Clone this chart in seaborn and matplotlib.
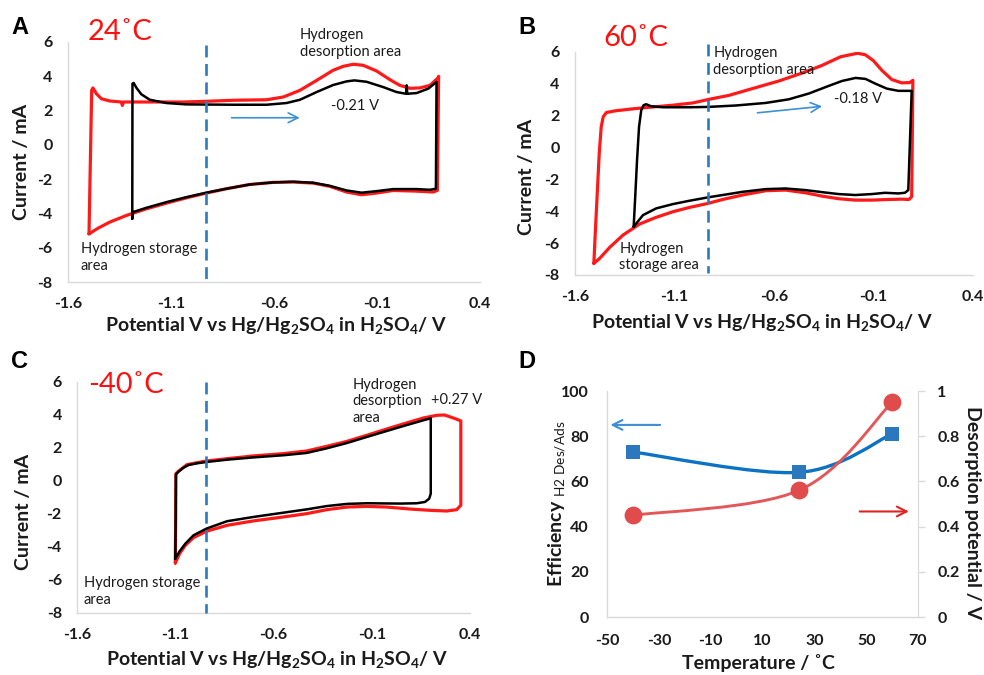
import matplotlib
matplotlib.use("Agg")
import numpy as np
import pandas as pd
import matplotlib.pyplot as plt
from matplotlib.path import Path
from matplotlib.patches import PathPatch
import seaborn as sns

# ---------------- cyclic voltammograms (potential V, current mA) ----------------
# 24 C
a_red_v = [-1.498, -1.485, -1.479, -1.462, -1.438, -1.398, -1.341, -1.336, -1.331, -1.203,
           -1.041, -0.928, -0.798, -0.636, -0.555, -0.474, -0.393, -0.313, -0.264, -0.215,
           -0.167, -0.102, -0.037, 0.011, 0.060, 0.108, 0.157, 0.198, 0.199, 0.193,
           0.173, 0.092, -0.021, -0.102, -0.175, -0.248, -0.329, -0.410, -0.507, -0.604,
           -0.717, -0.831, -0.928, -1.025, -1.122, -1.219, -1.317, -1.398, -1.454, -1.498]
a_red_i = [-5.19, 3.18, 3.32, 2.98, 2.69, 2.56, 2.50, 2.30, 2.50, 2.50,
           2.50, 2.54, 2.60, 2.63, 2.79, 3.18, 3.76, 4.35, 4.58, 4.70,
           4.64, 4.31, 3.80, 3.47, 3.30, 3.32, 3.47, 3.92, 4.00, -2.66,
           -2.75, -2.70, -2.66, -2.81, -2.91, -2.75, -2.42, -2.23, -2.17, -2.19,
           -2.31, -2.56, -2.81, -3.09, -3.40, -3.73, -4.12, -4.51, -4.86, -5.19]
a_blk_v = [-1.288, -1.287, -1.281, -1.268, -1.244, -1.203, -1.122, -1.025, -0.798, -0.636,
           -0.539, -0.474, -0.393, -0.313, -0.248, -0.210, -0.151, -0.070, -0.005, 0.041,
           0.044, 0.047, 0.092, 0.149, 0.189, 0.186, 0.157, 0.092, -0.021, -0.102,
           -0.175, -0.248, -0.329, -0.410, -0.507, -0.604, -0.717, -0.831, -0.928, -1.025,
           -1.122, -1.219, -1.284, -1.288]
a_blk_i = [-4.31, 3.57, 3.61, 3.33, 2.95, 2.63, 2.44, 2.36, 2.34, 2.34,
           2.44, 2.63, 3.08, 3.49, 3.70, 3.76, 3.68, 3.37, 3.08, 2.98,
           3.47, 2.98, 3.02, 3.28, 3.67, -2.56, -2.62, -2.58, -2.58, -2.70,
           -2.79, -2.66, -2.39, -2.21, -2.15, -2.19, -2.31, -2.56, -2.79, -3.05,
           -3.34, -3.67, -3.92, -4.31]

# 60 C
b_red_v = [-1.505, -1.498, -1.488, -1.478, -1.468, -1.458, -1.442, -1.400, -1.325, -1.242,
           -1.108, -1.008, -0.933, -0.825, -0.692, -0.575, -0.458, -0.358, -0.265, -0.180,
           -0.140, -0.100, -0.058, -0.008, 0.042, 0.083, 0.098, 0.092, 0.078, 0.042,
           -0.025, -0.108, -0.192, -0.275, -0.358, -0.442, -0.542, -0.642, -0.758, -0.858,
           -0.933, -1.025, -1.108, -1.192, -1.275, -1.358, -1.425, -1.475, -1.505]
b_red_i = [-7.27, -5.39, -2.88, -0.37, 1.30, 1.93, 2.20, 2.30, 2.41, 2.51,
           2.66, 2.80, 3.01, 3.28, 3.76, 4.18, 4.68, 5.16, 5.70, 5.92,
           5.82, 5.45, 4.85, 4.27, 4.06, 4.08, 4.22, -3.09, -3.26, -3.24,
           -3.26, -3.30, -3.30, -3.21, -3.05, -2.84, -2.67, -2.71, -2.98, -3.26,
           -3.51, -3.76, -4.03, -4.38, -4.80, -5.49, -6.26, -6.95, -7.27]
b_blk_v = [-1.305, -1.298, -1.288, -1.278, -1.267, -1.255, -1.242, -1.217, -1.158, -1.025,
           -0.933, -0.792, -0.642, -0.525, -0.425, -0.325, -0.258, -0.190, -0.140, -0.092,
           -0.033, 0.025, 0.092, 0.075, 0.058, 0.025, -0.042, -0.108, -0.192, -0.275,
           -0.358, -0.442, -0.542, -0.642, -0.758, -0.858, -0.933, -1.025, -1.108, -1.192,
           -1.258, -1.305]
b_blk_i = [-4.97, -3.30, -0.79, 1.30, 2.34, 2.66, 2.72, 2.59, 2.53, 2.53,
           2.55, 2.64, 2.80, 3.03, 3.39, 3.87, 4.18, 4.37, 4.31, 4.02,
           3.70, 3.56, 3.56, -2.67, -2.84, -2.88, -2.84, -2.92, -2.98, -2.92,
           -2.80, -2.67, -2.57, -2.61, -2.78, -2.98, -3.13, -3.34, -3.55, -3.82,
           -4.24, -4.97]

# -40 C
c_red_v = [-1.100, -1.098, -1.097, -1.088, -1.066, -1.041, -0.998, -0.942, -0.837, -0.702,
           -0.549, -0.431, -0.329, -0.227, -0.125, -0.024, 0.078, 0.163, 0.231, 0.270,
           0.324, 0.353, 0.353, 0.332, 0.281, 0.197, 0.095, -0.024, -0.125, -0.227,
           -0.329, -0.431, -0.549, -0.702, -0.837, -0.942, -1.007, -1.049, -1.078, -1.100]
c_red_i = [-4.97, -2.18, 0.44, 0.55, 0.75, 0.99, 1.09, 1.21, 1.35, 1.52,
           1.66, 1.82, 2.10, 2.40, 2.77, 3.15, 3.52, 3.82, 3.98, 4.00,
           3.78, 3.64, -1.47, -1.74, -1.82, -1.78, -1.70, -1.58, -1.54, -1.58,
           -1.74, -1.98, -2.18, -2.42, -2.69, -3.05, -3.43, -3.90, -4.40, -4.97]
c_blk_v = [-1.100, -1.098, -1.097, -1.083, -1.061, -1.032, -0.990, -0.942, -0.837, -0.702,
           -0.549, -0.431, -0.329, -0.227, -0.125, -0.024, 0.078, 0.163, 0.200, 0.200,
           0.192, 0.171, 0.129, 0.044, -0.125, -0.227, -0.329, -0.431, -0.549, -0.702,
           -0.837, -0.942, -1.007, -1.049, -1.078, -1.100]
c_blk_i = [-4.71, -2.18, 0.40, 0.57, 0.79, 0.97, 1.07, 1.15, 1.29, 1.43,
           1.56, 1.70, 1.98, 2.30, 2.67, 3.03, 3.39, 3.68, 3.80, -0.77,
           -1.07, -1.27, -1.35, -1.37, -1.35, -1.39, -1.52, -1.72, -1.92, -2.18,
           -2.44, -2.89, -3.29, -3.80, -4.26, -4.71]

# boundary between storage and desorption regions (V)
a_split = -0.928
b_split = -0.933
c_split = -0.942

# ---------------- temperature summary ----------------
temperature = [-40, 24, 60]
efficiency = [73, 64, 81]
desorption_potential = [0.45, 0.56, 0.95]

cv_xticks = [-1.6, -1.1, -0.6, -0.1, 0.4]
cv_xticklabels = ["-1.6", "-1.1", "-0.6", "-0.1", "0.4"]
cv_yticks = [-8, -6, -4, -2, 0, 2, 4, 6]
d_xticks = [-50, -30, -10, 10, 30, 50, 70]
d_yticks = [0, 20, 40, 60, 80, 100]
d_y2ticks = [0, 0.2, 0.4, 0.6, 0.8, 1.0]
d_y2labels = ["0", "0.2", "0.4", "0.6", "0.8", "1"]

# ---------------- style ----------------
sns.set_style("white")
plt.rcParams["font.family"] = ["Lato", "DejaVu Sans"]
plt.rcParams["mathtext.fontset"] = "custom"
plt.rcParams["mathtext.rm"] = "Lato:bold"
plt.rcParams["mathtext.bf"] = "Lato:bold"
plt.rcParams["mathtext.it"] = "Lato:bold:italic"
plt.rcParams["mathtext.sf"] = "Lato"

RED = "#ff1a1a"
BLACK = "#000000"
DASH_BLUE = "#2a7bc4"
ARROW_BLUE = "#3f8fd4"
SPINE = "#d9d9d9"
TXT = "#1a1a1a"
XLAB = r"Potential V vs Hg/Hg$_2$SO$_4$ in H$_2$SO$_4$/ V"

fig = plt.figure(figsize=(9.84, 6.75), dpi=100)


def style_axes(ax, xlim, ylim, xticks, xticklabels, yticks, xlab, ylab, xlab_pos, ylab_pos):
    ax.set_xlim(*xlim)
    ax.set_ylim(*ylim)
    ax.set_xticks(xticks)
    ax.set_xticklabels(xticklabels)
    ax.set_yticks(yticks)
    ax.set_yticklabels([str(t) for t in yticks])
    for lab in ax.get_xticklabels() + ax.get_yticklabels():
        lab.set_fontweight("bold")
        lab.set_fontsize(11.5)
        lab.set_color(TXT)
    ax.tick_params(axis="both", length=0)
    ax.tick_params(axis="x", pad=11)
    ax.tick_params(axis="y", pad=11)
    for side in ("top", "right"):
        ax.spines[side].set_visible(False)
    for side in ("left", "bottom"):
        ax.spines[side].set_color(SPINE)
        ax.spines[side].set_linewidth(1.0)
    ax.set_xlabel(xlab, fontsize=14, fontweight="bold", color=TXT)
    ax.set_ylabel(ylab, fontsize=14, fontweight="bold", color=TXT)
    ax.xaxis.set_label_coords(*xlab_pos)
    ax.yaxis.set_label_coords(*ylab_pos)
    ax.xaxis.label.set_va("center")
    ax.yaxis.label.set_va("center")
    ax.grid(False)


def cv_panel(ax, red_v, red_i, blk_v, blk_i, split, split_range):
    sns.lineplot(x=red_v, y=red_i, sort=False, estimator=None, ax=ax,
                 color=RED, linewidth=2.3, zorder=3)
    sns.lineplot(x=blk_v, y=blk_i, sort=False, estimator=None, ax=ax,
                 color=BLACK, linewidth=1.8, zorder=4)
    ax.plot([split, split], split_range, color=DASH_BLUE, linewidth=1.9,
            linestyle=(0, (4.5, 2.5)), zorder=5, clip_on=False)


def label_text(ax, x, y, s, **kw):
    ax.text(x, y, s, fontsize=10.5, color=TXT, ha="left", va="center",
            linespacing=1.25, **kw)


def arrow(ax, start, end, color, lw=1.2):
    ax.annotate("", xy=end, xytext=start,
                arrowprops=dict(arrowstyle="->,head_length=0.7,head_width=0.35",
                                color=color, lw=lw, shrinkA=0, shrinkB=0),
                annotation_clip=False)


# ---- panel A ----
axA = fig.add_axes([0.0691, 0.5822, 0.4187, 0.3556])
cv_panel(axA, a_red_v, a_red_i, a_blk_v, a_blk_i, a_split, [5.8, -7.8])
style_axes(axA, (-1.6, 0.4), (-8, 6), cv_xticks, cv_xticklabels, cv_yticks,
           XLAB, "Current / mA", (0.505, -0.183), (-0.112, 0.5))
label_text(axA, -0.474, 5.93, "Hydrogen\ndesorption area")
label_text(axA, -0.321, 2.25, "-0.21 V")
label_text(axA, -1.538, -6.57, "Hydrogen storage\narea")
arrow(axA, (-0.806, 1.58), (-0.475, 1.58), ARROW_BLUE)

# ---- panel B ----
axB = fig.add_axes([0.5843, 0.5926, 0.4045, 0.3304])
cv_panel(axB, b_red_v, b_red_i, b_blk_v, b_blk_i, b_split, [6.5, -7.9])
style_axes(axB, (-1.6, 0.4), (-8, 6), cv_xticks, cv_xticklabels, cv_yticks,
           XLAB, "Current / mA", (0.47, -0.215), (-0.121, 0.44))
label_text(axB, -0.905, 5.40, "Hydrogen\ndesorption area")
label_text(axB, -0.300, 3.03, "-0.18 V")
label_text(axB, -1.378, -6.87, "Hydrogen\nstorage area")
arrow(axB, (-0.683, 2.18), (-0.358, 2.59), ARROW_BLUE)

# ---- panel C ----
axC = fig.add_axes([0.0783, 0.0919, 0.3994, 0.3422])
cv_panel(axC, c_red_v, c_red_i, c_blk_v, c_blk_i, c_split, [6.0, -8.0])
style_axes(axC, (-1.6, 0.4), (-8, 6), cv_xticks, cv_xticklabels, cv_yticks,
           XLAB, "Current / mA", (0.51, -0.203), (-0.137, 0.437))
label_text(axC, -0.200, 4.83, "Hydrogen\ndesorption\narea")
label_text(axC, 0.202, 4.93, "+0.27 V")
label_text(axC, -1.566, -6.70, "Hydrogen storage\narea")


# ---- panel D ----
def smooth_path(xs, ys):
    """Cubic Bezier through the points with Catmull-Rom tangents."""
    pts = np.column_stack([xs, ys]).astype(float)
    n = len(pts)
    verts = [pts[0]]
    codes = [Path.MOVETO]
    for k in range(n - 1):
        p0 = pts[k - 1] if k > 0 else pts[k]
        p1 = pts[k]
        p2 = pts[k + 1]
        p3 = pts[k + 2] if k + 2 < n else pts[k + 1]
        verts += [p1 + (p2 - p0) / 6.0, p2 - (p3 - p1) / 6.0, p2]
        codes += [Path.CURVE4] * 3
    return Path(verts, codes)


axD = fig.add_axes([0.6169, 0.0859, 0.3160, 0.3348])
axD2 = axD.twinx()
D_BLUE = "#0b72c4"
D_SQ = "#2b78be"
D_RED = "#e25858"
D_DOT = "#e04b4b"

axD.add_patch(PathPatch(smooth_path(temperature, efficiency), facecolor="none",
                        edgecolor=D_BLUE, linewidth=2.4, zorder=2))
sns.scatterplot(x=temperature, y=efficiency, marker="s", s=115, color=D_SQ,
                edgecolor=D_SQ, linewidth=0, ax=axD, zorder=3)
axD2.add_patch(PathPatch(smooth_path(temperature, desorption_potential), facecolor="none",
                         edgecolor=D_RED, linewidth=2.1, zorder=2))
sns.scatterplot(x=temperature, y=desorption_potential, marker="o", s=165, color=D_DOT,
                edgecolor=D_DOT, linewidth=0, ax=axD2, zorder=3)

style_axes(axD, (-50, 70), (0, 100), d_xticks, [str(t) for t in d_xticks], d_yticks,
           "Temperature / \u02daC", r"Efficiency $_{\mathsf{H2\ Des/Ads}}$",
           (0.486, -0.204), (-0.161, 0.5))
axD.tick_params(axis="y", pad=13)
axD.tick_params(axis="x", pad=12)
axD.spines["right"].set_visible(False)

axD2.set_ylim(0, 1)
axD2.set_yticks(d_y2ticks)
axD2.set_yticklabels(d_y2labels)
for lab in axD2.get_yticklabels():
    lab.set_fontweight("bold")
    lab.set_fontsize(11.5)
    lab.set_color(TXT)
axD2.tick_params(axis="y", length=5, width=1, color=SPINE, pad=9)
for side in ("top", "left", "bottom"):
    axD2.spines[side].set_visible(False)
axD2.spines["right"].set_color(SPINE)
axD2.set_ylabel("Desorption potential / V", fontsize=14, fontweight="bold",
                color=TXT, rotation=270)
axD2.yaxis.set_label_coords(1.174, 0.46)
axD2.yaxis.label.set_va("center")
axD2.grid(False)

arrow(axD, (-29.5, 85), (-48.7, 85), ARROW_BLUE, lw=1.5)
arrow(axD, (47.5, 46.7), (66.5, 46.7), "#e02424", lw=1.5)

# ---- panel letters and temperatures ----
for letter, (px, py) in {"A": (20, 28), "B": (527, 28), "C": (20, 362), "D": (527, 362)}.items():
    fig.text(px / 984, 1 - py / 675, letter, fontsize=17, fontweight="bold",
             family="Liberation Sans", ha="center", va="center", color="#000000")

for label, (px, py) in {"24\u02daC": (88, 32), "60\u02daC": (603, 38), "-40\u02daC": (88, 385)}.items():
    fig.text(px / 984, 1 - py / 675, label, fontsize=21, color="#ff1010",
             ha="left", va="center")

fig.savefig("out.png", dpi=100)
